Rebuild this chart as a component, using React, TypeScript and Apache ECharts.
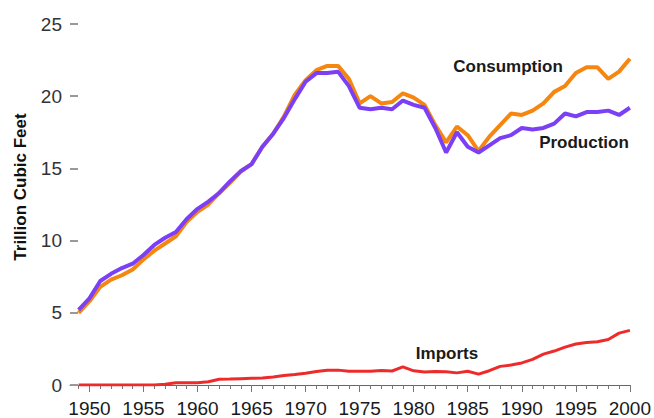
import React, { useEffect, useRef } from "react";
import * as echarts from "echarts";

const years: number[] = [];
for (let y = 1949; y <= 2000; y++) years.push(y);

const consumption = [
  5.0, 5.8, 6.8, 7.3, 7.6, 8.0, 8.7, 9.3, 9.8, 10.3, 11.3, 12.0, 12.5, 13.3, 14.0, 14.8, 15.3, 16.5, 17.4, 18.6,
  20.1, 21.1, 21.8, 22.1, 22.1, 21.2, 19.5, 20.0, 19.5, 19.6, 20.2, 19.9, 19.4, 18.0, 16.8, 17.9, 17.3, 16.2,
  17.2, 18.0, 18.8, 18.7, 19.0, 19.5, 20.3, 20.7, 21.6, 22.0, 22.0, 21.2, 21.7, 22.6,
];
const production = [
  5.2, 6.0, 7.2, 7.7, 8.1, 8.4, 9.0, 9.7, 10.2, 10.6, 11.5, 12.2, 12.7, 13.3, 14.1, 14.8, 15.3, 16.5, 17.4, 18.5,
  19.8, 21.0, 21.6, 21.6, 21.7, 20.7, 19.2, 19.1, 19.2, 19.1, 19.7, 19.4, 19.2, 17.8, 16.1, 17.5, 16.5, 16.1,
  16.6, 17.1, 17.3, 17.8, 17.7, 17.8, 18.1, 18.8, 18.6, 18.9, 18.9, 19.0, 18.7, 19.2,
];
const imports = [
  0, 0, 0, 0, 0, 0, 0, 0, 0.05, 0.15, 0.15, 0.16, 0.22, 0.4, 0.41, 0.44, 0.46, 0.48, 0.56, 0.65,
  0.73, 0.82, 0.93, 1.02, 1.03, 0.96, 0.95, 0.96, 1.0, 0.97, 1.25, 0.98, 0.9, 0.93, 0.92, 0.84, 0.95, 0.75,
  0.99, 1.29, 1.38, 1.53, 1.77, 2.14, 2.35, 2.62, 2.84, 2.94, 2.99, 3.15, 3.59, 3.78,
];
const majorTicks = [1950, 1955, 1960, 1965, 1970, 1975, 1980, 1985, 1990, 1995, 2000];
const minorTicks = years;

const FONT = "'Liberation Sans', Arial, Helvetica, sans-serif";

export default function App() {
  const ref = useRef<HTMLDivElement>(null);
  useEffect(() => {
    document.body.style.margin = "0";
    const chart = echarts.init(ref.current!, undefined, { renderer: "svg" });
    const pairs = (arr: number[]) => years.map((y, i) => [y, arr[i]]);
    const xBase = { type: "value", min: 1948.2, max: 2000, gridIndex: 0, position: "bottom", splitLine: { show: false } };
    const annot = (text: string, x: number, y: number) => ({
      type: "text",
      x,
      y,
      style: { text, fontSize: 17, fontWeight: "bold", fill: "#1a1a1a", fontFamily: FONT, align: "center", verticalAlign: "middle" },
    });
    chart.setOption({
      animation: false,
      backgroundColor: "#ffffff",
      grid: { left: 70, right: 22, top: 24, bottom: 33 },
      xAxis: [
        {
          ...xBase,
          axisLine: { show: true, lineStyle: { color: "#666", width: 1 } },
          axisTick: { show: true, customValues: minorTicks, length: 4, lineStyle: { color: "#777", width: 1 } },
          axisLabel: { show: false },
        },
        {
          ...xBase,
          axisLine: { show: false },
          axisTick: { show: true, customValues: majorTicks, length: 7, lineStyle: { color: "#777", width: 1 } },
          axisLabel: {
            show: true,
            customValues: majorTicks,
            margin: 14,
            fontSize: 19,
            color: "#1a1a1a",
            fontFamily: FONT,
            formatter: (v: number) => String(v),
          },
        },
      ],
      yAxis: {
        type: "value",
        min: 0,
        max: 25,
        interval: 5,
        axisLine: { show: false },
        axisTick: { show: true, inside: true, length: 8, lineStyle: { color: "#999", width: 2 } },
        axisLabel: { margin: 8, fontSize: 19, color: "#333", fontFamily: FONT },
        splitLine: { show: false },
      },
      series: [
        {
          name: "Imports",
          type: "line",
          xAxisIndex: 0,
          data: pairs(imports),
          symbol: "none",
          lineStyle: { color: "#ee2b2b", width: 3 },
        },
        {
          name: "Consumption",
          type: "line",
          xAxisIndex: 0,
          data: pairs(consumption),
          symbol: "none",
          lineStyle: { color: "#f5860f", width: 4 },
        },
        {
          name: "Production",
          type: "line",
          xAxisIndex: 0,
          data: pairs(production),
          symbol: "none",
          lineStyle: { color: "#7b3ff5", width: 4 },
        },
      ],
      graphic: [
        {
          type: "text",
          x: 20,
          y: 187,
          rotation: Math.PI / 2,
          style: {
            text: "Trillion Cubic Feet",
            fontSize: 17,
            fontWeight: "bold",
            fill: "#111",
            fontFamily: FONT,
            align: "center",
            verticalAlign: "middle",
          },
        },
        annot("Consumption", 508, 66),
        annot("Production", 584, 142),
        annot("Imports", 447, 353),
      ],
    });
    return () => chart.dispose();
  }, []);
  return <div ref={ref} style={{ width: 654, height: 418 }} />;
}
